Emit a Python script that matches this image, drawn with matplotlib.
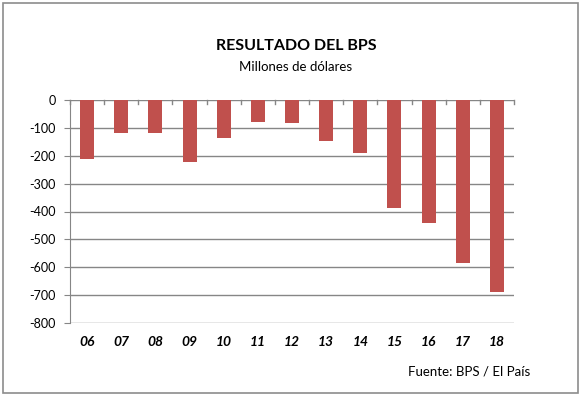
import matplotlib
matplotlib.use("Agg")
import matplotlib.pyplot as plt
from matplotlib.patches import Rectangle

plt.rcParams['font.family'] = ['Lato', 'DejaVu Sans']

years = ["06", "07", "08", "09", "10", "11", "12", "13", "14", "15", "16", "17", "18"]
values = [-210, -120, -117, -224, -135, -78, -81, -146, -189, -388, -443, -583, -690]
yticks = [0, -100, -200, -300, -400, -500, -600, -700, -800]

W, H = 583, 398
fig = plt.figure(figsize=(W / 100, H / 100), dpi=100)
fig.patch.set_facecolor("white")

# chart frame
fig.patches.append(Rectangle((3 / W, 5 / H), 575 / W, 390 / H, transform=fig.transFigure,
                             fill=False, edgecolor="#8c8c8c", linewidth=1.2))

ax = fig.add_axes([70 / W, (H - 323) / H, (514 - 70) / W, 223 / H])
x = list(range(len(years)))
ax.bar(x, values, width=0.41, color="#c0504d", zorder=3)
ax.set_xlim(-0.5, len(years) - 0.5)
ax.set_ylim(-800, 0)
ax.set_yticks(yticks)
ax.set_yticklabels([str(v) for v in yticks], fontsize=9)
ax.yaxis.grid(True, color="#868686", linewidth=1)
ax.set_axisbelow(True)
for s in ["top", "right", "bottom"]:
    ax.spines[s].set_visible(False)
ax.spines["left"].set_color("#868686")
ax.tick_params(axis="y", length=4, color="#868686", pad=6)

ax.set_xticks(x)
ax.set_xticklabels([])
ax.tick_params(axis="x", which="major", length=0)
for i in range(len(years) + 1):
    ax.plot([i - 0.5, i - 0.5], [0, -14], color="#868686", linewidth=1, zorder=2, clip_on=False)

for i, lab in enumerate(years):
    ax.text(i, -845, lab, ha="center", va="top", fontsize=10, fontweight="bold",
            fontstyle="italic")

fig.text(296 / W, 1 - 46 / H, "RESULTADO DEL BPS", ha="center", va="center",
         fontsize=11.5, fontweight="bold")
fig.text(296 / W, 1 - 67 / H, "Millones de dólares", ha="center", va="center", fontsize=9.5)
fig.text(530 / W, 1 - 372 / H, "Fuente: BPS / El País", ha="right", va="center", fontsize=9.5)

fig.savefig("out.png", dpi=100)
